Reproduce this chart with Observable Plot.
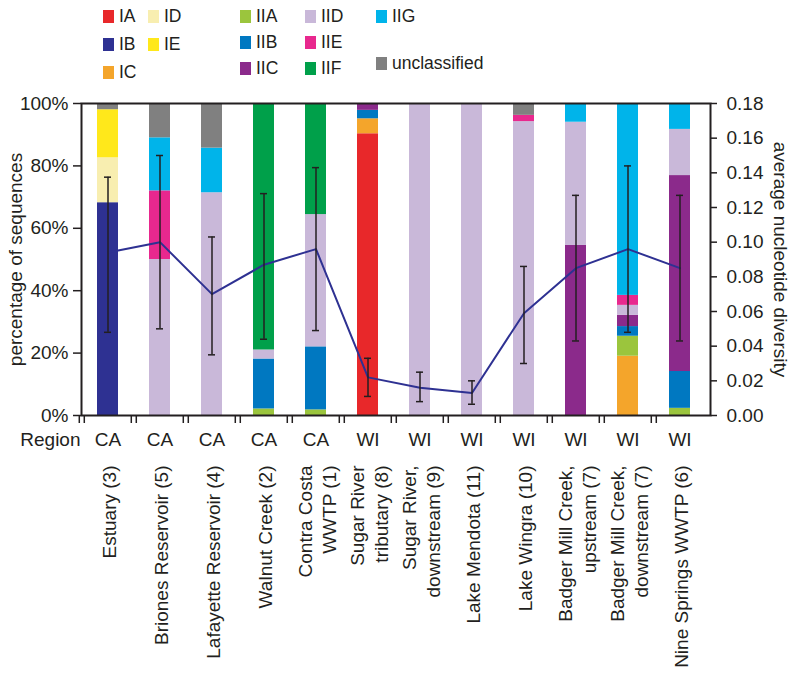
<!DOCTYPE html>
<html>
<head>
<meta charset="utf-8">
<script src="https://cdn.jsdelivr.net/npm/d3@7"></script>
<script src="https://cdn.jsdelivr.net/npm/@observablehq/plot@0.6"></script>
<style>
  body { margin: 0; background: #fff; font-family: "Liberation Sans", Arial, Helvetica, sans-serif; color: #231f20; }
  #wrap { position: relative; width: 800px; height: 680px; }
  #legend { position: relative; width: 800px; height: 88px; }
  .lg { position: absolute; display: flex; align-items: center; font-size: 17.5px; line-height: 17px; }
  .sw { width: 11px; height: 13px; margin-right: 5px; }
  svg { display: block; }
</style>
</head>
<body>
<div id="wrap">
  <div id="legend"></div>
  <div id="chart"></div>
</div>
<script>
// ---- data ----
const types = ["IA","IB","IC","ID","IE","IIA","IIB","IIC","IID","IIE","IIF","IIG","unclassified"];
const typeColors = ["#e8282a","#2e3192","#f4a52b","#f8eeb0","#ffe81b","#9bc53d","#0078c1","#8b2a8b","#c9b8d9","#e8288e","#00a04a","#00b4ea","#808080"];

const sites = ["Estuary (3)","Briones Reservoir (5)","Lafayette Reservoir (4)","Walnut Creek (2)","Contra Costa\nWWTP (1)","Sugar River\ntributary (8)","Sugar River,\ndownstream (9)","Lake Mendota (11)","Lake Wingra (10)","Badger Mill Creek,\nupstream (7)","Badger Mill Creek,\ndownstream (7)","Nine Springs WWTP (6)"];
const regions = ["CA","CA","CA","CA","CA","WI","WI","WI","WI","WI","WI","WI"];

// percentage of sequences per type, one value per site
const IA   = [0, 0, 0, 0, 0, 90.3, 0, 0, 0, 0, 0, 0];
const IB   = [68.2, 0, 0, 0, 0, 0, 0, 0, 0, 0, 0, 0];
const IC   = [0, 0, 0, 0, 0, 4.8, 0, 0, 0, 0, 19.0, 0];
const ID   = [14.4, 0, 0, 0, 0, 0, 0, 0, 0, 0, 0, 0];
const IE   = [15.4, 0, 0, 0, 0, 0, 0, 0, 0, 0, 0, 0];
const IIA  = [0, 0, 0, 2.1, 1.8, 0, 0, 0, 0, 0, 6.4, 2.3];
const IIB  = [0, 0, 0, 16.0, 20.2, 2.7, 0, 0, 0, 0, 3.1, 11.8];
const IIC  = [0, 0, 0, 0, 0, 2.2, 0, 0, 0, 54.5, 3.6, 62.8];
const IID  = [0, 50.0, 71.4, 2.9, 42.4, 0, 100, 100, 94.2, 39.5, 3.2, 14.8];
const IIE  = [0, 22.0, 0, 0, 0, 0, 0, 0, 2.0, 0, 3.2, 0];
const IIF  = [0, 0, 0, 79.0, 35.6, 0, 0, 0, 0, 0, 0, 0];
const IIG  = [0, 17.0, 14.3, 0, 0, 0, 0, 0, 0, 6.0, 61.5, 8.3];
const uncl = [2.0, 11.0, 14.3, 0, 0, 0, 0, 0, 3.8, 0, 0, 0];

// average nucleotide diversity with error bar ends
const diversity = [0.094, 0.100, 0.070, 0.087, 0.096, 0.022, 0.016, 0.013, 0.059, 0.085, 0.096, 0.085];
const divLow    = [0.048, 0.050, 0.035, 0.044, 0.049, 0.011, 0.008, 0.0065, 0.030, 0.043, 0.048, 0.043];
const divHigh   = [0.1375, 0.150, 0.103, 0.128, 0.143, 0.033, 0.025, 0.020, 0.086, 0.127, 0.144, 0.127];

const pctTicks = [0, 20, 40, 60, 80, 100];
const divTicks = [0, 0.02, 0.04, 0.06, 0.08, 0.10, 0.12, 0.14, 0.16, 0.18];
const divMax = 0.18;

// ---- tables ----
const shares = [IA, IB, IC, ID, IE, IIA, IIB, IIC, IID, IIE, IIF, IIG, uncl];
const rows = [];
sites.forEach((s, i) => types.forEach((t, j) => {
  const v = shares[j][i];
  if (v > 0) rows.push({site: s, type: t, value: v});
}));
const divRows = sites.map((s, i) => ({site: s, region: regions[i], d: diversity[i], lo: divLow[i], hi: divHigh[i]}));
const toPct = v => v / divMax * 100;

// ---- legend (HTML) ----
const legendLayout = [
  ["IA", 103, 17], ["IB", 103, 45], ["IC", 103, 73],
  ["ID", 148, 17], ["IE", 148, 45],
  ["IIA", 240, 17], ["IIB", 240, 43], ["IIC", 240, 69],
  ["IID", 305, 17], ["IIE", 305, 43], ["IIF", 305, 69],
  ["IIG", 376, 17], ["unclassified", 376, 64]
];
const legend = document.getElementById("legend");
legendLayout.forEach(([t, x, y]) => {
  const el = document.createElement("div");
  el.className = "lg";
  el.style.left = x + "px";
  el.style.top = (y - 9) + "px";
  el.innerHTML = `<span class="sw" style="background:${typeColors[types.indexOf(t)]}"></span><span>${t}</span>`;
  legend.appendChild(el);
});

// ---- chart ----
const W = 800, H = 592, mL = 81, mR = 90, mT = 15, mB = 265;
const step = (W - mL - mR) / 12;
const fs = 19;
const ink = "#231f20";

const chart = Plot.plot({
  width: W, height: H,
  marginTop: mT, marginBottom: mB, marginLeft: mL, marginRight: mR,
  style: {fontFamily: '"Liberation Sans", Arial, Helvetica, sans-serif', color: ink, background: "#fff"},
  x: {domain: sites, paddingInner: 0.6, paddingOuter: 0.3, align: 0.44},
  y: {domain: [0, 100]},
  color: {domain: types, range: typeColors},
  marks: [
    Plot.barY(rows, {x: "site", y: "value", fill: "type"}),
    Plot.line(divRows, {x: "site", y: d => toPct(d.d), stroke: "#2e3192", strokeWidth: 2}),
    Plot.ruleX(divRows, {x: "site", y1: d => toPct(d.lo), y2: d => toPct(d.hi), stroke: ink, strokeWidth: 1.5}),
    Plot.tickY(divRows, {x: "site", y: d => toPct(d.lo), stroke: ink, strokeWidth: 1.5, insetLeft: 7, insetRight: 7}),
    Plot.tickY(divRows, {x: "site", y: d => toPct(d.hi), stroke: ink, strokeWidth: 1.5, insetLeft: 7, insetRight: 7}),
    Plot.frame({stroke: ink, strokeWidth: 2}),
    // left axis
    Plot.axisY({anchor: "left", ticks: pctTicks, tickFormat: d => d + "%", tickSize: 8, tickPadding: 5, fontSize: fs, label: null, stroke: ink, strokeWidth: 1.5}),
    // right axis (diversity)
    Plot.axisY({anchor: "right", ticks: divTicks.map(toPct), tickFormat: d => (d * divMax / 100).toFixed(2), tickSize: 6, tickPadding: 10, fontSize: fs, label: null, stroke: ink, strokeWidth: 1.5}),
    // break marks at band boundaries
    Plot.axisX({ticks: sites, tickSize: 8, tickFormat: () => "", label: null, dx: -step / 2 - 2.5, strokeWidth: 1.5, stroke: ink}),
    Plot.axisX({ticks: sites, tickSize: 8, tickFormat: () => "", label: null, dx: -step / 2 + 2.5, strokeWidth: 1.5, stroke: ink}),
    // axis titles
    Plot.text(["percentage of sequences"], {frameAnchor: "left", textAnchor: "middle", rotate: -90, dx: -66, fontSize: fs, fill: ink, text: d => d}),
    Plot.text(["average nucleotide diversity"], {frameAnchor: "right", textAnchor: "middle", rotate: 90, dx: 70, fontSize: fs, fill: ink, text: d => d}),
    // region row
    Plot.text(["Region"], {frameAnchor: "bottom-left", dx: -1, dy: 30, textAnchor: "end", fontSize: fs, fill: ink, text: d => d}),
    Plot.text(divRows, {x: "site", frameAnchor: "bottom", dy: 30, text: "region", fontSize: fs, fill: ink}),
    // site names
    Plot.text(divRows, {x: "site", frameAnchor: "bottom", dy: 50, text: "site", rotate: -90, textAnchor: "end", lineAnchor: "middle", lineHeight: 1.3, fontSize: fs, fill: ink})
  ]
});
document.getElementById("chart").appendChild(chart);
</script>
</body>
</html>
